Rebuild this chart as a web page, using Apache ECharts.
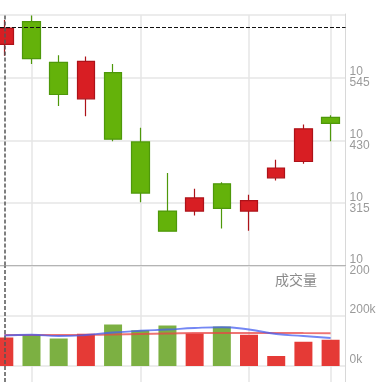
<!DOCTYPE html>
<html><head><meta charset="utf-8">
<script src="https://cdn.jsdelivr.net/npm/echarts@6/dist/echarts.min.js"></script>
<style>html,body{margin:0;padding:0;background:#fff}#c{width:392px;height:382px}</style>
</head><body><div id="c"></div>
<script>
const categories = ['D01','D02','D03','D04','D05','D06','D07','D08','D09','D10','D11','D12','D13'];
const openVals  = [10606,10648,10573,10506,10554,10427,10300,10300,10350,10300,10361,10391,10472];
const closeVals = [10636,10580,10514,10575,10432,10333,10263,10324,10305,10319,10379,10451,10461];
const lowVals   = [10585,10570,10493,10474,10428,10316,10263,10292,10268,10264,10356,10387,10428];
const highVals  = [10651,10659,10586,10584,10570,10453,10370,10341,10353,10330,10394,10459,10476];
const volumes   = [114000,124000,110000,129000,166000,143000,162000,130000,158000,125000,40000,97000,105000];
const volumeDir = [1,-1,-1,1,-1,-1,-1,1,-1,1,1,1,1];
const volMA1    = [124000,124000,124000,124500,126000,128000,130000,132000,132500,132500,132500,132000,131500];
const volMA2    = [122000,125000,120000,124000,134000,141000,146000,152000,155000,146000,128000,120000,112000];
const priceTicks = {min:10200, max:10660, interval:115};
const volTicks = {min:0, max:400000, interval:200000};
const volExtendedMin = -64000;   // value at the bottom edge of the picture
const crossPrice = 10638;
const crossIndex = 0;
const gridXIdx = [1,5,9,12];

const RED='#d81e23', RED_B='#ad1219', GREEN='#64b20a', GREEN_B='#4e980a';
const VRED='#e53a36', VGREEN='#7cb042';

const candleData = categories.map((c,i)=>[openVals[i],closeVals[i],lowVals[i],highVals[i]]);
const volData = volumes.map((v,i)=>({value:v,itemStyle:{color: volumeDir[i]>0?VRED:VGREEN}}));

const chart = echarts.init(document.getElementById('c'), null, {renderer:'canvas'});
const plotL = 4.3, plotR = 392-330.6, frameR = 392-345.6;
const labelFont = {color:'#9a9a9a', fontSize:12, fontFamily:'Liberation Sans, Arial, sans-serif'};
const vSplit = {show:true, interval:(idx)=>gridXIdx.indexOf(idx)>=0, lineStyle:{color:'#e6e6e6', width:1.5}};
const hideAxis = {axisLine:{show:false}, axisTick:{show:false}, axisLabel:{show:false}, splitLine:{show:false}};
chart.setOption({
  animation:false,
  backgroundColor:'#fff',
  grid:[
    {left:plotL, right:plotR, top:15, bottom:382-265.5},
    {left:plotL, right:plotR, top:266, bottom:0},
    {left:0, right:frameR, top:15, bottom:382-265.5},
    {left:0, right:frameR, top:266, bottom:16},
    {left:0, right:frameR, top:14, bottom:0}
  ],
  xAxis:[
    {type:'category', gridIndex:0, data:categories, boundaryGap:false, axisLine:{show:false}, axisTick:{show:false}, axisLabel:{show:false}, splitLine:vSplit},
    {type:'category', gridIndex:1, data:categories, boundaryGap:false, axisLine:{show:false}, axisTick:{show:false}, axisLabel:{show:false}, splitLine:vSplit},
    {type:'value', gridIndex:2, min:0, max:1, axisLine:{show:true, onZero:false, lineStyle:{color:'#b4b4b4'}}, axisTick:{show:false}, axisLabel:{show:false}, splitLine:{show:false}},
    Object.assign({type:'value', gridIndex:3, min:0, max:1}, hideAxis),
    Object.assign({type:'value', gridIndex:4, min:0, max:1}, hideAxis)
  ],
  yAxis:[
    {type:'value', gridIndex:0, min:priceTicks.min, max:priceTicks.max, show:false},
    {type:'value', gridIndex:1, min:volExtendedMin, max:volTicks.max, show:false},
    {type:'value', gridIndex:2, position:'right', min:priceTicks.min, max:priceTicks.max, interval:priceTicks.interval,
      axisLine:{show:false}, axisTick:{show:false},
      splitLine:{show:true, lineStyle:{color:'#e6e6e6', width:1.5}},
      axisLabel:Object.assign({margin:4, showMaxLabel:false, lineHeight:11, padding:[0,0,7,0],
        formatter:(v)=>{const s=String(Math.round(v)); return s.slice(0,2)+'\n'+s.slice(2);}}, labelFont)},
    {type:'value', gridIndex:3, position:'right', min:volTicks.min, max:volTicks.max, interval:volTicks.interval,
      axisLine:{show:false}, axisTick:{show:false},
      splitLine:{show:true, lineStyle:{color:'#e6e6e6', width:1.5}},
      axisLabel:Object.assign({margin:4, showMaxLabel:false, verticalAlign:'bottom',
        formatter:(v)=>Math.round(v/1000)+'k'}, labelFont)},
    {type:'value', gridIndex:4, position:'right', min:0, max:1,
      axisLine:{show:true, onZero:false, lineStyle:{color:'#d8d8d8'}}, axisTick:{show:false}, axisLabel:{show:false}, splitLine:{show:false}}
  ],
  graphic:[{type:'text', left:275, top:273, style:{text:'成交量', fill:'#8a8a8a', font:'14px "Noto Sans CJK SC", sans-serif'}}],
  series:[
    {type:'candlestick', xAxisIndex:0, yAxisIndex:0, data:candleData, barWidth:18, clip:false,
      itemStyle:{color:RED, color0:GREEN, borderColor:RED_B, borderColor0:GREEN_B, borderWidth:1.2},
      markLine:{silent:true, symbol:['none','none'], label:{show:false},
        lineStyle:{color:'#555', type:[4,2], width:1.5}, data:[{xAxis:crossIndex}]}},
    {type:'bar', xAxisIndex:1, yAxisIndex:1, data:volData, barWidth:18, clip:false,
      markLine:{silent:true, symbol:['none','none'], label:{show:false},
        lineStyle:{color:'#555', type:[4,2], width:1.5}, data:[{xAxis:crossIndex}]}},
    {type:'line', xAxisIndex:1, yAxisIndex:1, data:volMA1, smooth:true, showSymbol:false, symbol:'none',
      lineStyle:{color:'rgba(232,70,70,0.75)', width:2}},
    {type:'line', xAxisIndex:1, yAxisIndex:1, data:volMA2, smooth:true, showSymbol:false, symbol:'none',
      lineStyle:{color:'rgba(70,95,240,0.75)', width:1.8}},
    {type:'line', xAxisIndex:2, yAxisIndex:2, data:[], 
      markLine:{silent:true, symbol:['none','none'], label:{show:false},
        lineStyle:{color:'#111', type:[4,2], width:1}, data:[{yAxis:crossPrice}]}}
  ]
});
</script></body></html>
